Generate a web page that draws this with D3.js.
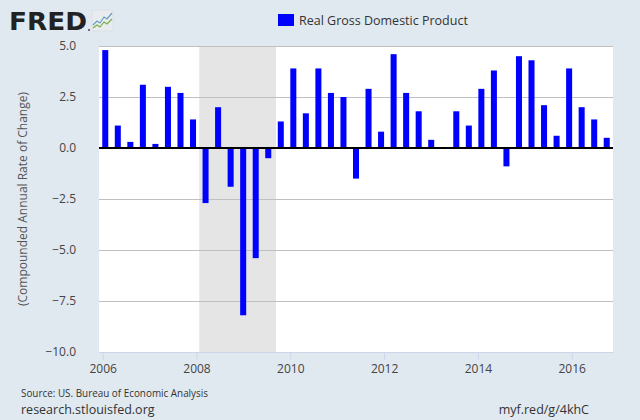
<!DOCTYPE html>
<html>
<head>
<meta charset="utf-8">
<script src="https://cdn.jsdelivr.net/npm/d3@7"></script>
<style>
  html, body { margin: 0; padding: 0; background: #e1e9f0; }
  svg { display: block; font-family: "Open Sans", sans-serif; }
</style>
</head>
<body>
<svg id="chart" width="640" height="420"></svg>
<script>
const quarters = [
  "2006Q1","2006Q2","2006Q3","2006Q4",
  "2007Q1","2007Q2","2007Q3","2007Q4",
  "2008Q1","2008Q2","2008Q3","2008Q4",
  "2009Q1","2009Q2","2009Q3","2009Q4",
  "2010Q1","2010Q2","2010Q3","2010Q4",
  "2011Q1","2011Q2","2011Q3","2011Q4",
  "2012Q1","2012Q2","2012Q3","2012Q4",
  "2013Q1","2013Q2","2013Q3","2013Q4",
  "2014Q1","2014Q2","2014Q3","2014Q4",
  "2015Q1","2015Q2","2015Q3","2015Q4",
  "2016Q1"
];
const gdpChange = [
  4.8, 1.1, 0.3, 3.1,
  0.2, 3.0, 2.7, 1.4,
  -2.7, 2.0, -1.9, -8.2,
  -5.4, -0.5, 1.3, 3.9,
  1.7, 3.9, 2.7, 2.5,
  -1.5, 2.9, 0.8, 4.6,
  2.7, 1.8, 0.4, 0.0,
  1.8, 1.1, 2.9, 3.8,
  -0.9, 4.5, 4.3, 2.1,
  0.6, 3.9, 2.0, 1.4,
  0.5
];
const yTicks = [-10, -7.5, -5, -2.5, 0, 2.5, 5];
const xTickYears = [2006, 2008, 2010, 2012, 2014, 2016];
const recession = ["2008Q1", "2009Q2"];
const seriesName = "Real Gross Domestic Product";
const yTitle = "(Compounded Annual Rate of Change)";

const svg = d3.select("#chart");
const W = 640, H = 420;
const plot = { left: 99, right: 613, top: 46, bottom: 352 };

svg.append("rect").attr("width", W).attr("height", H).attr("fill", "#e1e9f0");

const x = d3.scaleBand().domain(quarters)
  .range([plot.left, plot.right]).paddingInner(0.52).paddingOuter(0.26);
const xTime = d3.scaleLinear().domain([2005.921, 2016.88]).range([plot.left, plot.right]);
const y = d3.scaleLinear().domain([-10, 5]).range([plot.bottom, plot.top]);

// plot background
svg.append("rect")
  .attr("x", plot.left).attr("y", plot.top)
  .attr("width", plot.right - plot.left).attr("height", plot.bottom - plot.top)
  .attr("fill", "#ffffff");

// recession shading
const halfGap = x.step() * x.paddingInner() / 2;
const recX0 = x(recession[0]) - halfGap;
const recX1 = x(recession[1]) + x.bandwidth() + halfGap + 1.5;
svg.append("rect")
  .attr("x", recX0)
  .attr("y", plot.top)
  .attr("width", recX1 - recX0)
  .attr("height", plot.bottom - plot.top)
  .attr("fill", "#e5e5e5");

// gridlines
svg.append("g").selectAll("line")
  .data(yTicks.filter(d => d !== 0 && d !== -10))
  .join("line")
  .attr("x1", plot.left).attr("x2", plot.right)
  .attr("y1", d => Math.round(y(d)) + 0.5).attr("y2", d => Math.round(y(d)) + 0.5)
  .attr("stroke", "#c0c0c0").attr("stroke-width", 1);

// y axis labels
const yAxis = d3.axisLeft(y).tickValues(yTicks).tickFormat(d3.format(".1f")).tickSize(0).tickPadding(0);
const gy = svg.append("g").attr("transform", `translate(76,0)`).call(yAxis);
gy.select(".domain").remove();
gy.selectAll("text")
  .attr("fill", "#444").style("font-size", "12px").style("font-family", "'Open Sans', sans-serif");

// bars
svg.append("g").selectAll("rect")
  .data(quarters.map((q, i) => ({ q, v: gdpChange[i] })))
  .join("rect")
  .attr("x", d => x(d.q))
  .attr("width", x.bandwidth())
  .attr("y", d => d.v >= 0 ? y(d.v) : y(0))
  .attr("height", d => Math.abs(y(d.v) - y(0)))
  .attr("fill", "#0000ff");

// zero line
svg.append("line")
  .attr("x1", plot.left).attr("x2", plot.right)
  .attr("y1", y(0)).attr("y2", y(0))
  .attr("stroke", "#000").attr("stroke-width", 2);

// x axis
const xAxis = d3.axisBottom(xTime).tickValues(xTickYears).tickFormat(d3.format("d"))
  .tickSize(8).tickPadding(4).tickSizeOuter(0);
const gx = svg.append("g").attr("transform", `translate(0,${plot.bottom})`).call(xAxis);
gx.select(".domain").attr("stroke", "#ccd6eb").attr("stroke-width", 1);
gx.selectAll(".tick line").attr("stroke", "#ccd6eb");
gx.selectAll("text")
  .attr("fill", "#444").style("font-size", "12px").style("font-family", "'Open Sans', sans-serif");

// y title
svg.append("text")
  .attr("transform", `translate(27,${(plot.top + plot.bottom) / 2}) rotate(-90)`)
  .attr("text-anchor", "middle")
  .attr("fill", "#555").style("font-size", "12px")
  .text(yTitle);

// legend
svg.append("rect").attr("x", 278).attr("y", 14).attr("width", 16).attr("height", 12).attr("fill", "#0000ff");
svg.append("text").attr("x", 299).attr("y", 25)
  .attr("fill", "#333").style("font-size", "12.5px").text(seriesName);

// FRED logo
svg.append("text").attr("x", 9).attr("y", 30)
  .attr("fill", "#222").style("font-size", "25px").style("font-weight", "900")
  .style("font-family", "'DejaVu Sans', sans-serif").attr("textLength", 78)
  .attr("lengthAdjust", "spacingAndGlyphs")
  .text("FRED");
const icon = svg.append("g").attr("transform", "translate(92,10)");
icon.append("rect").attr("width", 21).attr("height", 21).attr("rx", 1.5)
  .attr("fill", "#e8ecef").attr("stroke", "#d0d4d8").attr("stroke-width", 0.5);
icon.append("polyline").attr("points", "1,15 5,11 8,13 12,7 15,9 20,3")
  .attr("fill", "none").attr("stroke", "#6a9bc4").attr("stroke-width", 1.2);
icon.append("polyline").attr("points", "1,18 5,15 8,17 12,12 15,14 20,9")
  .attr("fill", "none").attr("stroke", "#7cae4a").attr("stroke-width", 1.2);
svg.append("circle").attr("cx", 89).attr("cy", 30).attr("r", 1).attr("fill", "#444");

// footer
svg.append("text").attr("x", 21).attr("y", 397)
  .attr("fill", "#333").style("font-size", "10px").attr("textLength", 187)
  .attr("lengthAdjust", "spacingAndGlyphs")
  .text("Source: US. Bureau of Economic Analysis");
svg.append("text").attr("x", 21).attr("y", 414)
  .attr("fill", "#333").style("font-size", "12.5px")
  .text("research.stlouisfed.org");
svg.append("text").attr("x", 589).attr("y", 414).attr("text-anchor", "end")
  .attr("fill", "#333").style("font-size", "12.5px")
  .text("myf.red/g/4khC");
</script>
</body>
</html>
